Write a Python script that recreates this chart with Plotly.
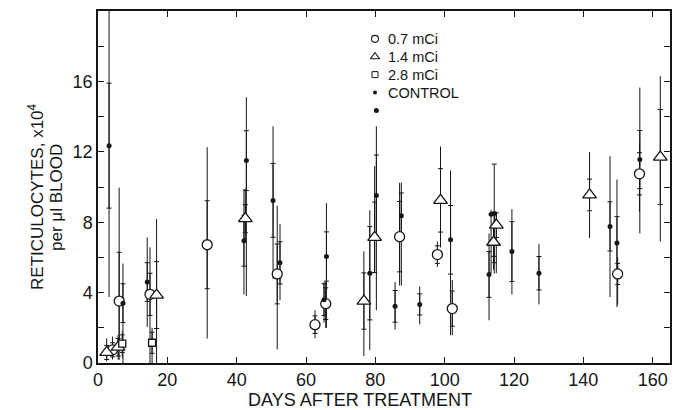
import plotly.graph_objects as go

# ---- data: day, mean, range (low/high) and +/- spread marks, x10^4 per ul ----
ctrl_day  = [3.2, 7.2, 14.2, 42.8, 42.1, 50.5, 52.5, 65.9, 65.2, 78.4, 80.3, 80.3,
             85.7, 87.5, 92.8, 101.7, 112.8, 113.4, 114.3, 119.4, 127.2, 147.7, 149.7, 156.3]
ctrl_mean = [12.35, 3.4, 4.6, 11.5, 6.95, 9.24, 5.69, 6.05, 3.6, 5.1, 14.35, 9.52,
             3.22, 8.36, 3.33, 7.0, 5.03, 8.45, 8.5, 6.33, 5.1, 7.76, 6.82, 11.56]
ctrl_low  = [3.75, 0.0, 2.05, 3.8, 3.9, 4.78, 3.56, 2.0, 2.3, 0.73, 14.35, 3.0,
             1.9, 4.4, 2.2, 1.58, 2.43, 5.1, 5.08, 3.9, 3.33, 3.75, 3.18, 7.36]
ctrl_high = [20.0, 5.65, 7.13, 15.1, 9.9, 13.45, 7.9, 9.08, 4.6, 8.68, 14.35, 13.45,
             4.6, 10.24, 4.35, 10.94, 7.36, 8.7, 8.64, 8.74, 6.76, 11.75, 10.43, 15.65]
ctrl_sd   = [3.55, 1.1, 1.1, 1.7, 1.45, 2.1, 1.2, 1.4, 0.9, 2.65, None, 2.3,
             0.9, 1.3, 0.6, 1.95, 1.3, None, 2.8, 1.7, 0.95, 1.4, 1.5, 1.65]

d07_day  = [4.2, 6.1, 15.0, 31.5, 51.7, 62.6, 65.7, 87.0, 97.9, 102.2, 149.9, 156.2]
d07_mean = [0.75, 3.52, 3.9, 6.72, 5.06, 2.18, 3.37, 7.18, 6.16, 3.09, 5.06, 10.75]
d07_low  = [0.2, 0.17, 0.0, 1.39, 0.77, 1.4, 2.0, 4.4, 5.46, 1.58, 3.3, 8.6]
d07_high = [1.5, 9.96, 6.57, 12.26, 8.93, 3.0, 4.6, 10.24, 6.9, 4.72, 6.0, 12.5]
d07_sd   = [0.4, 2.77, 1.2, 2.5, 1.7, 0.5, 0.9, 2.0, 0.5, 1.0, 0.6, 1.2]

d14_day  = [2.5, 5.8, 16.9, 42.5, 76.7, 79.8, 98.8, 114.1, 114.9, 141.8, 162.2]
d14_mean = [0.6, 0.9, 3.86, 8.2, 3.52, 7.14, 9.24, 6.86, 7.83, 9.55, 11.7]
d14_low  = [0.1, 0.2, 0.0, 6.9, 0.4, 5.16, 6.57, 5.3, 5.1, 7.1, 6.9]
d14_high = [1.4, 1.6, 8.17, 9.9, 6.34, 11.19, 12.3, 8.0, 8.6, 11.98, 16.3]
d14_sd   = [0.4, 0.5, 1.9, 0.8, 1.6, 2.0, 1.8, 0.8, 0.7, 0.9, 2.7]

d28_day  = [7.0, 15.6]
d28_mean = [1.1, 1.15]
d28_low  = [0.3, 0.0]
d28_high = [1.8, 2.0]
d28_sd   = [0.5, 0.6]

x_ticks = [0, 20, 40, 60, 80, 100, 120, 140, 160]
y_ticks = [0, 4, 8, 12, 16]
y_minor = [2, 6, 10, 14, 18]

x_title = "DAYS AFTER TREATMENT"
y_title_1 = "RETICULOCYTES, x10<sup>4</sup>"
y_title_2 = "per \u03bcl BLOOD"

INK = "#161616"
FONT = "Liberation Sans"

# plot area in page pixels (margins below are derived from it)
W, H = 686, 410
PL, PR, PT, PB = 98, 670, 9, 363

series = [
    ("0.7 mCi", d07_day, d07_mean, d07_low, d07_high, d07_sd,
     dict(symbol="circle", size=10, color="white", line=dict(color=INK, width=1.3)),
     dict(symbol="circle", size=7, color="white", line=dict(color=INK, width=1.1))),
    ("1.4 mCi", d14_day, d14_mean, d14_low, d14_high, d14_sd,
     dict(symbol="triangle-up", size=12, color="white", line=dict(color=INK, width=1.3)),
     dict(symbol="triangle-up", size=8, color="white", line=dict(color=INK, width=1.1))),
    ("2.8 mCi", d28_day, d28_mean, d28_low, d28_high, d28_sd,
     dict(symbol="square", size=7, color="white", line=dict(color=INK, width=1.3)),
     dict(symbol="square", size=6, color="white", line=dict(color=INK, width=1.0))),
    ("CONTROL", ctrl_day, ctrl_mean, ctrl_low, ctrl_high, ctrl_sd,
     dict(symbol="circle", size=5, color=INK, line=dict(width=0)),
     dict(symbol="circle", size=4, color=INK, line=dict(width=0))),
]

fig = go.Figure()

# vertical range lines and spread marks first, markers on top
for name, day, mean, low, high, sd, mk, _ in series:
    fig.add_trace(go.Scatter(
        x=day, y=mean, mode="markers", showlegend=False, hoverinfo="skip",
        marker=dict(size=1, opacity=0),
        error_y=dict(type="data", symmetric=False,
                     array=[h - m for h, m in zip(high, mean)],
                     arrayminus=[m - l for m, l in zip(mean, low)],
                     color=INK, thickness=1.0, width=0)))
    sd_day = [d for d, s in zip(day, sd) if s is not None]
    sd_mean = [m for m, s in zip(mean, sd) if s is not None]
    sd_val = [s for s in sd if s is not None]
    fig.add_trace(go.Scatter(
        x=sd_day, y=sd_mean, mode="markers", showlegend=False, hoverinfo="skip",
        marker=dict(size=1, opacity=0),
        error_y=dict(type="data", array=sd_val, color=INK, thickness=1.0, width=2.5)))

for name, day, mean, low, high, sd, mk, _ in series:
    fig.add_trace(go.Scatter(x=day, y=mean, mode="markers", name=name,
                             marker=mk, showlegend=False))

# key: symbols on a pixel-scaled overlay axis, labels as annotations
KEY_X, KEY_Y0, KEY_DY, KEY_GAP = 375, 37, 18, 11
annotations = []
for i, (name, *_rest, key_mk) in enumerate(series):
    ky = KEY_Y0 + i * KEY_DY
    fig.add_trace(go.Scatter(x=[KEY_X], y=[ky], mode="markers", marker=key_mk,
                             xaxis="x2", yaxis="y2", showlegend=False,
                             hoverinfo="skip"))
    annotations.append(dict(text=name, xref="x2", yref="y2", x=KEY_X + KEY_GAP,
                            y=ky, xanchor="left", yanchor="middle",
                            showarrow=False,
                            font=dict(family=FONT, size=14.5, color=INK)))

axis_common = dict(
    showline=True, linecolor=INK, linewidth=1.5, mirror="ticks",
    ticks="inside", ticklen=6, tickwidth=1.2, tickcolor=INK,
    showgrid=False, zeroline=False,
    tickfont=dict(family=FONT, size=18, color=INK),
)

title_font = dict(family=FONT, size=17, color=INK)


def px_x(p):
    return (p - PL) / (PR - PL)


def px_y(p):
    return (PB - p) / (PB - PT)


annotations += [
    dict(text=x_title, xref="paper", yref="paper", x=px_x(360), y=px_y(400),
         xanchor="center", yanchor="middle", showarrow=False,
         font=dict(family=FONT, size=18, color=INK)),
    dict(text=y_title_1, xref="paper", yref="paper", x=px_x(36), y=px_y(196),
         xanchor="center", yanchor="middle", textangle=-90, showarrow=False,
         font=title_font),
    dict(text=y_title_2, xref="paper", yref="paper", x=px_x(57), y=px_y(197),
         xanchor="center", yanchor="middle", textangle=-90, showarrow=False,
         font=title_font),
]

fig.update_layout(
    width=W, height=H,
    margin=dict(l=PL, r=W - PR, t=PT, b=H - PB),
    paper_bgcolor="white", plot_bgcolor="white",
    font=dict(family=FONT, color=INK),
    xaxis=dict(axis_common, range=[0, 165], tickvals=x_ticks,
               ticktext=[str(v) for v in x_ticks]),
    yaxis=dict(axis_common, range=[0, 20], tickvals=y_ticks,
               ticktext=[str(v) for v in y_ticks],
               minor=dict(tickvals=y_minor, ticks="inside", ticklen=6,
                          tickwidth=1.2, tickcolor=INK)),
    xaxis2=dict(range=[PL, PR], overlaying="x", visible=False, fixedrange=True),
    yaxis2=dict(range=[PB, PT], overlaying="y", visible=False, fixedrange=True),
    showlegend=False,
    annotations=annotations,
)

fig.write_html("out.html")
